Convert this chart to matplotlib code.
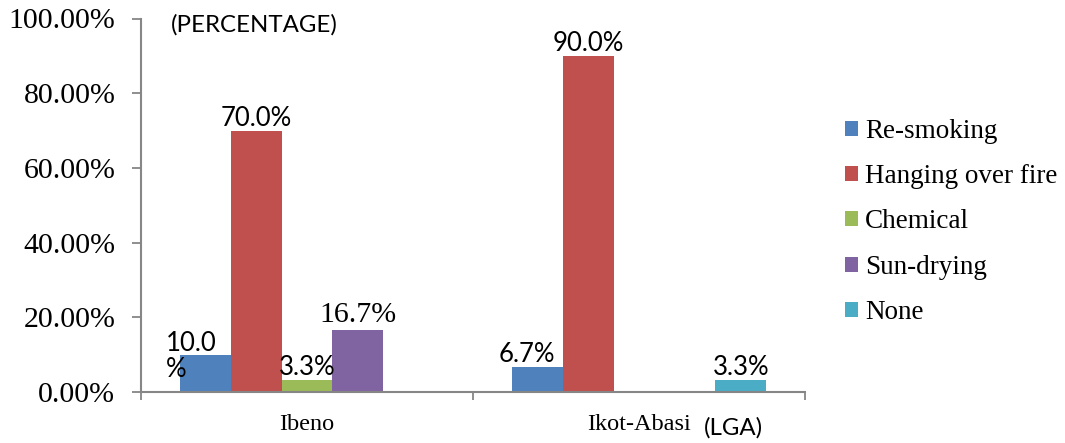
import numpy as np
import matplotlib.pyplot as plt

categories = ['Ibeno', 'Ikot-Abasi']
methods = ['Re-smoking', 'Hanging over fire', 'Chemical', 'Sun-drying', 'None']
# fractions, per method, for [Ibeno, Ikot-Abasi]
re_smoking = [0.100, 0.067]
hanging = [0.700, 0.900]
chemical = [0.033, 0.0]
sun_drying = [0.167, 0.0]
none = [0.0, 0.033]
series = [re_smoking, hanging, chemical, sun_drying, none]
colors = ['#4F81BD', '#C0504D', '#9BBB59', '#8064A2', '#4BACC6']

# bar labels (None = no label)
labels = [['10.0\n%', '6.7%'],
          ['70.0%', '90.0%'],
          ['3.3%', None],
          ['16.7%', None],
          [None, '3.3%']]

serif = 'Liberation Serif'
sans = 'Lato'

fig = plt.figure(figsize=(10.65, 4.43), dpi=100)
ax = fig.add_axes([141 / 1065, 1 - 392 / 443, (805 - 141) / 1065, (392 - 18.5) / 443])

x = np.arange(len(categories))
w = 0.1536
for i, (vals, c) in enumerate(zip(series, colors)):
    pos = x + (i - 2) * w
    ax.bar(pos, vals, w, color=c, label=methods[i], zorder=2)
    for j, v in enumerate(vals):
        lab = labels[i][j]
        if lab is None:
            continue
        if lab.startswith('10.0'):
            ax.annotate(lab, (pos[j], v), xytext=(-10, -20), textcoords='offset points',
                        ha='center', va='bottom', fontsize=18.5, family=sans,
                        multialignment='left', linespacing=1.05)
        elif lab == '16.7%':
            ax.annotate(lab, (pos[j], v), xytext=(0, 1), textcoords='offset points',
                        ha='center', va='bottom', fontsize=21.5, family=serif)
        else:
            dx = -7 if lab == '6.7%' else 0
            ax.annotate(lab, (pos[j], v), xytext=(dx, 0), textcoords='offset points',
                        ha='center', va='bottom', fontsize=18.5, family=sans)

ax.set_xlim(-0.5, 1.5)
ax.set_ylim(0, 1.0)
ax.set_yticks(np.arange(0, 1.01, 0.2))
ax.set_yticklabels(['%.2f%%' % (t * 100) for t in np.arange(0, 1.01, 0.2)],
                   family=serif, fontsize=21.5)
ax.set_xticks([-0.5, 0.5, 1.5], minor=False)
ax.set_xticklabels([])
ax.set_xticks(x, minor=True)
ax.set_xticklabels(categories, minor=True, family=serif, fontsize=17.5)
ax.tick_params(axis='x', which='major', direction='out', length=6, width=1.3, color='#868686')
ax.tick_params(axis='x', which='minor', length=0, pad=16)
ax.tick_params(axis='y', direction='out', length=6.5, width=1.3, color='#868686', pad=12)

for s in ['top', 'right']:
    ax.spines[s].set_visible(False)
for s in ['left', 'bottom']:
    ax.spines[s].set_color('#868686')
    ax.spines[s].set_linewidth(1.5)

fig.text(254 / 1065, 1 - 25 / 443, '(PERCENTAGE)', ha='center', va='center',
         family=sans, fontsize=17.3)
fig.text(733 / 1065, 1 - 428 / 443, '(LGA)', ha='center', va='center',
         family=sans, fontsize=17.3)

fig.legend(loc='center left', bbox_to_anchor=(845 / 1065, 0.499), frameon=False,
           prop={'family': serif, 'size': 19.5}, handlelength=0.48, handleheight=0.48,
           handletextpad=0.26, labelspacing=0.75, borderpad=0, borderaxespad=0)

fig.savefig('out.png', dpi=100)
